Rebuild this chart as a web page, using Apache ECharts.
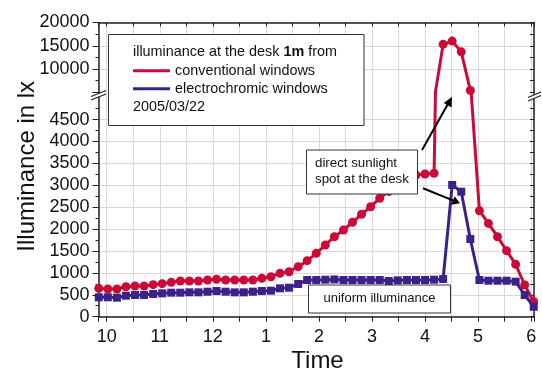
<!DOCTYPE html>
<html><head><meta charset="utf-8">
<script src="https://cdn.jsdelivr.net/npm/echarts@6/dist/echarts.min.js"></script>
<style>html,body{margin:0;padding:0;background:#fff}#c{width:542px;height:372px}</style>
</head><body><div id="c"></div>
<script>
// time of each measurement, decimal hours (24h clock)
const timesH = [9.850,10.021,10.192,10.362,10.533,10.704,10.875,11.046,11.216,11.387,
  11.558,11.729,11.900,12.070,12.241,12.412,12.583,12.754,12.924,13.095,
  13.266,13.437,13.608,13.778,13.949,14.120,14.291,14.462,14.632,14.803,
  14.974,15.145,15.316,15.486,15.657,15.828,15.999,16.170,16.340,16.511,
  16.682,16.853,17.024,17.194,17.365,17.536,17.707,17.878,18.048];
// illuminance in lx, conventional windows
const conventional = [648,632,632,685,701,701,731,754,785,815,
  815,815,838,854,838,838,838,838,876,913,
  990,1027,1142,1279,1447,1637,1826,1979,2155,2338,
  2511,2703,2860,3010,3140,3235,3258,3274,15300,16000,
  13700,5400,2420,2130,1826,1507,1196,724,342];
// illuminance in lx, electrochromic windows
const electrochromic = [443,443,434,480,495,495,518,533,548,548,
  556,556,571,586,571,556,556,571,586,594,
  648,662,746,838,838,845,850,838,838,838,
  838,838,815,830,838,838,838,845,860,3007,
  2854,1774,838,822,822,822,800,495,228];
// tick labels
const xTickValues = [10,11,12,13,14,15,16,17,18];
const xTickLabels = ['10','11','12','1','2','3','4','5','6'];
const lowerTickLabels = ['0','500','1000','1500','2000','2500','3000','3500','4000','4500'];
const upperTickValues = [10000,15000,20000];
const upperTickLabels = ['10000','15000','20000'];

const RED = '#cc0a38', BLUE = '#3a2288';
const FONT = "'Liberation Sans', Arial, sans-serif";
const XMIN = 9.845, XMAX = 18.053;
const AX = '#222', GRID = '#d9d9d9', NONE = 'rgba(0,0,0,0)';
const pairs = ys => timesH.map((t, i) => [t, ys[i]]);
function xLabel(v){ const k = xTickValues.indexOf(Math.round(v*1000)/1000); return k >= 0 ? xTickLabels[k] : ''; }
function lowLabel(v){ const k = Math.round(v/500); return (Math.abs(v - k*500) < 1e-6 && k < lowerTickLabels.length) ? lowerTickLabels[k] : ''; }
function upLabel(v){ const k = upperTickValues.indexOf(v); return k >= 0 ? upperTickLabels[k] : ''; }

const xCommon = {type:'value', min:XMIN, max:XMAX, splitNumber:16,
  axisLine:{show:true, onZero:false, lineStyle:{color:AX, width:1.5}},
  splitLine:{show:true, lineStyle:{color:GRID, width:1}}};
// lower panel reaches slightly above 5000 so the two panels join at the break
const LOWER_MAX = 5123;

const option = {
  animation:false,
  grid:[
    {left:98.5, right:8, top:22.5, height:69.8},
    {left:98.5, right:8, top:92.3, height:224.4}
  ],
  xAxis:[
    Object.assign({}, xCommon, {gridIndex:0, position:'top',
      axisTick:{show:true, inside:true, length:4, lineStyle:{color:AX}},
      axisLabel:{show:false}}),
    Object.assign({}, xCommon, {gridIndex:1, position:'bottom',
      axisTick:{show:true, inside:false, length:5, lineStyle:{color:AX}},
      axisLabel:{show:true, margin:11, formatter:xLabel, fontSize:18, fontFamily:FONT, color:'#111'}})
  ],
  yAxis:[
    {type:'value', gridIndex:0, position:'left', min:5000, max:20000, interval:5000,
      axisLine:{show:true, lineStyle:{color:AX, width:1.5}},
      axisTick:{show:true, length:6, lineStyle:{color:AX}},
      minorTick:{show:true, splitNumber:2, length:3, lineStyle:{color:AX}},
      axisLabel:{show:true, margin:9, formatter:upLabel, fontSize:18, fontFamily:FONT, color:'#111'},
      splitLine:{show:true, showMinLine:false, lineStyle:{color:GRID, width:1}}},
    {type:'value', gridIndex:0, position:'right', min:5000, max:20000, interval:5000,
      axisLine:{show:true, lineStyle:{color:AX, width:1.5}},
      axisTick:{show:true, inside:true, length:4, lineStyle:{color:AX}},
      minorTick:{show:true, splitNumber:2, length:4, lineStyle:{color:AX}},
      axisLabel:{show:false}, splitLine:{show:false}},
    {type:'value', gridIndex:1, position:'left', min:0, max:LOWER_MAX, interval:500,
      axisLine:{show:true, onZero:false, lineStyle:{color:AX, width:1.5}},
      axisTick:{show:true, length:6, lineStyle:{color:AX}},
      minorTick:{show:true, splitNumber:2, length:3, lineStyle:{color:AX}},
      axisLabel:{show:true, margin:9, formatter:lowLabel, fontSize:18, fontFamily:FONT, color:'#111'},
      splitLine:{show:true, lineStyle:{color:[GRID,GRID,GRID,GRID,GRID,GRID,GRID,GRID,GRID,GRID,NONE,NONE], width:1}}},
    {type:'value', gridIndex:1, position:'right', min:0, max:LOWER_MAX, interval:500,
      axisLine:{show:true, onZero:false, lineStyle:{color:AX, width:1.5}},
      axisTick:{show:true, inside:true, length:4, lineStyle:{color:AX}},
      minorTick:{show:true, splitNumber:2, length:4, lineStyle:{color:AX}},
      axisLabel:{show:false}, splitLine:{show:false}}
  ],
  series:[
    {type:'line', xAxisIndex:0, yAxisIndex:0, data:pairs(conventional), clip:true,
      symbol:'circle', symbolSize:9, lineStyle:{color:RED, width:3}, itemStyle:{color:RED}, z:3},
    {type:'line', xAxisIndex:1, yAxisIndex:2, data:pairs(conventional), clip:true,
      symbol:'circle', symbolSize:9, lineStyle:{color:RED, width:3}, itemStyle:{color:RED}, z:3},
    {type:'line', xAxisIndex:1, yAxisIndex:2, data:pairs(electrochromic), clip:true,
      symbol:'rect', symbolSize:8, lineStyle:{color:BLUE, width:3}, itemStyle:{color:BLUE}, z:4}
  ],
  graphic:[
    // axis break marks
    {type:'polygon', z:50, shape:{points:[[91,96.5],[106,90.5],[106,94],[91,100]]}, style:{fill:'#fff'}},
    {type:'line', z:51, shape:{x1:91,y1:96.5,x2:106,y2:90.5}, style:{stroke:AX, lineWidth:1.2}},
    {type:'line', z:51, shape:{x1:91,y1:100,x2:106,y2:94}, style:{stroke:AX, lineWidth:1.2}},
    {type:'polygon', z:50, shape:{points:[[528,97.5],[541,92],[541,95.5],[528,101]]}, style:{fill:'#fff'}},
    {type:'line', z:51, shape:{x1:528,y1:97.5,x2:541,y2:92}, style:{stroke:AX, lineWidth:1.2}},
    {type:'line', z:51, shape:{x1:528,y1:101,x2:541,y2:95.5}, style:{stroke:AX, lineWidth:1.2}},
    // legend box
    {type:'rect', z:100, shape:{x:108.5,y:34.5,width:255.5,height:91}, style:{fill:'#fff', stroke:'#333', lineWidth:1}},
    {type:'text', z:101, x:133, y:52.5, style:{text:'{n|illuminance at the desk }{b|1m}{n| from}',
      verticalAlign:'middle', rich:{n:{fontSize:14.4, fontFamily:FONT, fill:'#111'}, b:{fontSize:14.4, fontFamily:FONT, fontWeight:'bold', fill:'#111'}}}},
    {type:'line', z:101, shape:{x1:133,y1:70.7,x2:170,y2:70.7}, style:{stroke:RED, lineWidth:3}},
    {type:'text', z:101, x:175, y:70.7, style:{text:'conventional windows', verticalAlign:'middle', fontSize:14.4, fontFamily:FONT, fill:'#111'}},
    {type:'line', z:101, shape:{x1:133,y1:88.7,x2:170,y2:88.7}, style:{stroke:BLUE, lineWidth:3}},
    {type:'text', z:101, x:175, y:88.7, style:{text:'electrochromic windows', verticalAlign:'middle', fontSize:14.4, fontFamily:FONT, fill:'#111'}},
    {type:'text', z:101, x:133, y:107, style:{text:'2005/03/22', verticalAlign:'middle', fontSize:14.4, fontFamily:FONT, fill:'#111'}},
    // direct sunlight annotation
    {type:'rect', z:100, shape:{x:306.5,y:150,width:111,height:44}, style:{fill:'#fff', stroke:'#333', lineWidth:1}},
    {type:'text', z:101, x:315, y:163.5, style:{text:'direct sunlight', verticalAlign:'middle', fontSize:13.3, fontFamily:FONT, fill:'#111'}},
    {type:'text', z:101, x:315, y:179.5, style:{text:'spot at the desk', verticalAlign:'middle', fontSize:13.3, fontFamily:FONT, fill:'#111'}},
    // uniform illuminance box
    {type:'rect', z:100, shape:{x:308.5,y:285,width:142,height:28}, style:{fill:'#fff', stroke:'#333', lineWidth:1}},
    {type:'text', z:101, x:379.5, y:298.5, style:{text:'uniform illuminance', align:'center', verticalAlign:'middle', fontSize:13, fontFamily:FONT, fill:'#111'}},
    // arrows
    {type:'line', z:101, shape:{x1:422,y1:150,x2:448.5,y2:103}, style:{stroke:'#000', lineWidth:2}},
    {type:'polygon', z:101, shape:{points:[[452,96.7],[451.6,107.5],[443.8,103.1]]}, style:{fill:'#000'}},
    {type:'line', z:101, shape:{x1:423,y1:188.3,x2:453.5,y2:200.6}, style:{stroke:'#000', lineWidth:2}},
    {type:'polygon', z:101, shape:{points:[[460,203.3],[451.2,204.7],[454.6,196.3]]}, style:{fill:'#000'}},
    // axis titles
    {type:'text', z:101, x:27.5, y:166.3, rotation:Math.PI/2, style:{text:'Illuminance in lx', align:'center', verticalAlign:'middle', fontSize:24, fontFamily:FONT, fill:'#111'}},
    {type:'text', z:101, x:317.5, y:361, style:{text:'Time', align:'center', verticalAlign:'middle', fontSize:24, fontFamily:FONT, fill:'#111'}}
  ]
};
echarts.init(document.getElementById('c')).setOption(option);
</script></body></html>
